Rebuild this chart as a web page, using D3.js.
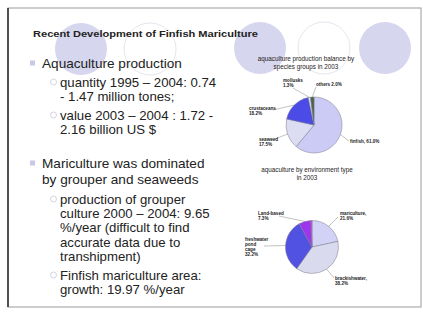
<!DOCTYPE html>
<html>
<head>
<meta charset="utf-8">
<script src="https://cdn.jsdelivr.net/npm/d3@7"></script>
<style>
  html, body { margin: 0; padding: 0; background: #fff; }
  svg { display: block; }
  text { font-family: "Liberation Sans", Arial, sans-serif; fill: #222; }
</style>
</head>
<body>
<svg id="slide" width="423" height="320"></svg>
<script>
// Species-group shares of aquaculture production, 2003 (%)
const speciesGroups = ["finfish", "seaweed", "crustaceans", "mollusks", "others"];
const speciesShare = [61.0, 17.5, 18.2, 1.3, 2.0];
const speciesColors = ["#cbcbf5", "#dcdcf3", "#4b4be8", "#e4e4f4", "#4a6448"];

// Aquaculture by environment type, 2003 (%)
const envTypes = ["mariculture", "brackishwater", "freshwater pond & cage", "land-based", "others"];
const envShare = [21.6, 38.2, 32.2, 7.3, 0.7];
const envColors = ["#d2d2f7", "#dadaee", "#5151e2", "#9b35ee", "#ff33ff"];

// Label lines for each slice (name lines, then value)
const speciesLabelLines = [["finfish, 61.0%"], ["seaweed", "17.5%"], ["crustaceans", "18.2%"], ["mollusks", "1.3%"], ["others 2.0%"]];
const envLabelLines = [["mariculture,", "21.6%"], ["brackishwater,", "38.2%"], ["freshwater", "pond", "cage", "32.2%"], ["Land-based", "7.3%"], null];

// Slide text
const slideTitle = "Recent Development of Finfish Mariculture";
const bulletBlocks = [
  { level: 0, lines: ["Aquaculture production"] },
  { level: 1, lines: ["quantity 1995 \u2013 2004: 0.74", "- 1.47 million tones;"] },
  { level: 1, lines: ["value 2003 \u2013 2004 : 1.72 -", "2.16 billion US $"] },
  { level: 0, lines: ["Mariculture was dominated", "by grouper and seaweeds"] },
  { level: 1, lines: ["production of grouper", "culture  2000 \u2013 2004: 9.65", "%/year (difficult to find", "accurate data due to", "transhipment)"] },
  { level: 1, lines: ["Finfish mariculture area:", "growth: 19.97 %/year"] }
];
const pieTitles = [
  ["aquaculture production balance by", "species groups in 2003"],
  ["aquaculture by environment type", "in 2003"]
];

const svg = d3.select("#slide");

// Slide frame
svg.append("rect").attr("x", 8).attr("y", 8).attr("width", 413).attr("height", 299)
  .attr("fill", "#fff").attr("stroke", "#9a9a9a").attr("stroke-width", 1);
svg.append("line").attr("x1", 8).attr("x2", 8).attr("y1", 8).attr("y2", 307)
  .attr("stroke", "#333").attr("stroke-width", 1.6);

// Decorative circles along the header
const deco = svg.append("g");
[[81, 49, true], [150, 49, false], [260, 48, true], [324, 48, false], [385, 48, true]].forEach(([cx, cy, filled]) => {
  deco.append("circle").attr("cx", cx).attr("cy", cy).attr("r", 26)
    .attr("fill", filled ? "#d6d6ee" : "none")
    .attr("stroke", filled ? "none" : "#e6e6ee").attr("stroke-width", 1);
});

// Title
svg.append("text").attr("x", 33).attr("y", 37).attr("font-size", 9).attr("font-weight", "bold")
  .attr("textLength", 225).attr("lengthAdjust", "spacingAndGlyphs").text(slideTitle);

// Bullet text
const blockTops = [63, 82, 115, 163, 199, 275];
bulletBlocks.forEach((b, i) => {
  const g = svg.append("g");
  const x = b.level === 0 ? 42 : 60;
  const fs = b.level === 0 ? 13.6 : 13.2;
  const gap = b.level === 0 ? 16 : 14.3;
  b.lines.forEach((ln, j) => {
    g.append("text").attr("x", x).attr("y", blockTops[i] + j * gap + fs * 0.36)
      .attr("font-size", fs).text(ln);
  });
  if (b.level === 0) {
    g.append("rect").attr("x", 30).attr("y", blockTops[i] - 2.5).attr("width", 5).attr("height", 5)
      .attr("fill", "#c8c8e8");
  } else {
    g.append("circle").attr("cx", 53.5).attr("cy", blockTops[i]).attr("r", 3)
      .attr("fill", "none").attr("stroke", "#d4d4e4").attr("stroke-width", 1);
  }
});

// Pie chart helper
function drawPie(cfg) {
  const g = svg.append("g").attr("transform", `translate(${cfg.cx},${cfg.cy})`);
  const pie = d3.pie().sort(null).value(d => d.v)(cfg.values.map((v, i) => ({ v, i })));
  const arc = d3.arc().innerRadius(0).outerRadius(cfg.r);
  const edge = d3.arc().innerRadius(cfg.r).outerRadius(cfg.r);
  g.selectAll("path").data(pie).join("path")
    .attr("d", arc).attr("fill", d => cfg.colors[d.data.i])
    .attr("stroke", "#7a7a8a").attr("stroke-width", 0.5);

  pie.forEach(d => {
    const lines = cfg.labels[d.data.i];
    if (!lines) return;
    const pos = cfg.labelPos[d.data.i];
    const [ex, ey] = edge.centroid(d);
    g.append("line")
      .attr("x1", ex).attr("y1", ey)
      .attr("x2", pos.lx - cfg.cx).attr("y2", pos.ly - cfg.cy)
      .attr("stroke", "#666").attr("stroke-width", 0.4);
    const t = svg.append("text").attr("font-size", 4.6).attr("font-weight", "bold").attr("fill", "#333");
    lines.forEach((ln, j) => {
      t.append("tspan").attr("x", pos.x).attr("y", pos.y + j * 5).text(ln);
    });
  });

  cfg.title.forEach((ln, j) => {
    svg.append("text").attr("x", cfg.titleX).attr("y", cfg.titleY + j * 7.5)
      .attr("text-anchor", "middle").attr("font-size", 6.3).attr("fill", "#333").text(ln);
  });
}

drawPie({
  cx: 314, cy: 125, r: 28,
  values: speciesShare, colors: speciesColors, labels: speciesLabelLines,
  labelPos: [
    { x: 350, y: 143, lx: 349, ly: 141 },
    { x: 259, y: 141, lx: 275, ly: 139 },
    { x: 249, y: 110, lx: 273, ly: 110 },
    { x: 283, y: 82, lx: 293, ly: 88 },
    { x: 316, y: 86, lx: 316, ly: 87 }
  ],
  title: pieTitles[0], titleX: 306, titleY: 61
});

drawPie({
  cx: 312, cy: 247, r: 26.5,
  values: envShare, colors: envColors, labels: envLabelLines,
  labelPos: [
    { x: 340, y: 215, lx: 338, ly: 217 },
    { x: 335, y: 280, lx: 334, ly: 278 },
    { x: 245, y: 241, lx: 264, ly: 246 },
    { x: 258, y: 215, lx: 279, ly: 216 },
    null
  ],
  title: pieTitles[1], titleX: 307, titleY: 172
});
</script>
</body>
</html>
